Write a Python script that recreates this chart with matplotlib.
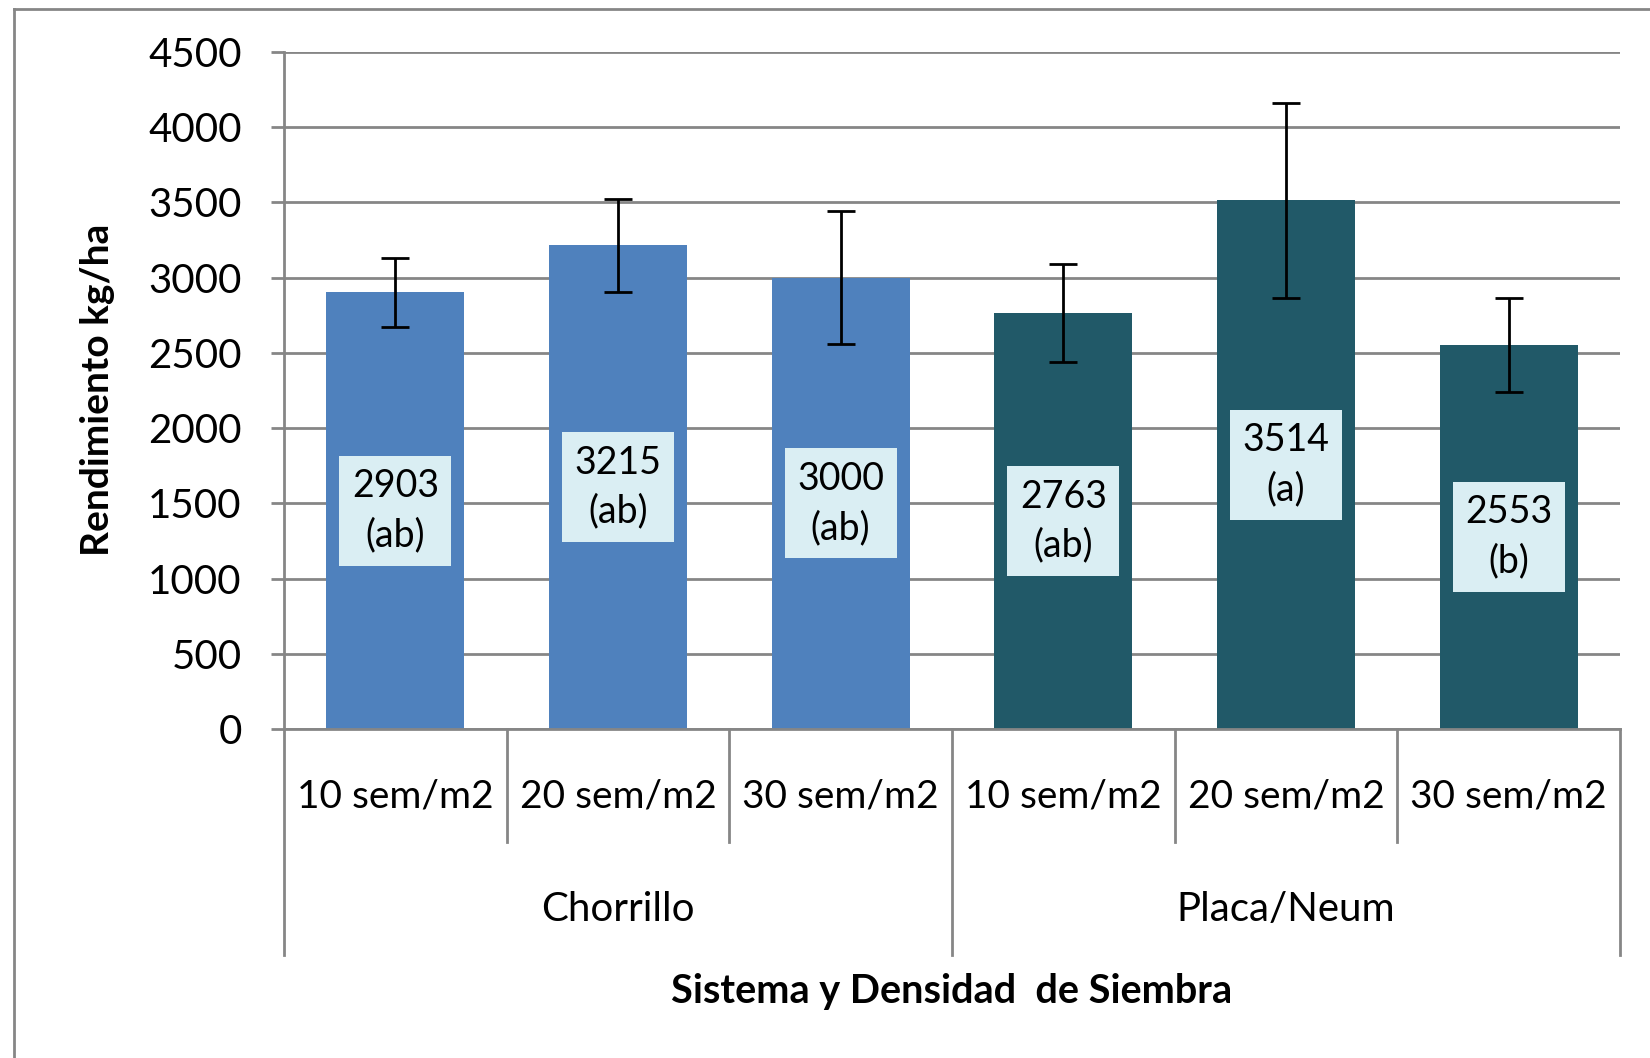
import matplotlib
matplotlib.use("Agg")
import matplotlib.pyplot as plt
from matplotlib.lines import Line2D

plt.rcParams['font.family'] = ['Lato', 'DejaVu Sans']

# data
groups = ['Chorrillo', 'Placa/Neum']
densities = ['10 sem/m2', '20 sem/m2', '30 sem/m2']
values = [2903, 3215, 3000, 2763, 3514, 2553]
errors = [230, 310, 440, 325, 650, 315]
letters = ['ab', 'ab', 'ab', 'ab', 'a', 'b']
group_colors = ['#4F81BD', '#215968']

grid_col = '#868686'

fig = plt.figure(figsize=(16.5, 10.58), dpi=100)
ax = fig.add_axes([284 / 1650, 1 - 729 / 1058, 1336 / 1650, 677 / 1058])

n = len(densities)
x = list(range(len(values)))
colors = [group_colors[i // n] for i in x]

ax.bar(x, values, width=0.62, color=colors, zorder=2)
ax.errorbar(x, values, yerr=errors, fmt='none', ecolor='black',
            elinewidth=2, capsize=10, capthick=2, zorder=3)

# labels in the middle of each bar
for xi, v, l in zip(x, values, letters):
    ax.text(xi, v / 2, '%d\n(%s)' % (v, l), ha='center', va='center',
            fontsize=27, linespacing=1.45, zorder=4,
            bbox=dict(boxstyle='square,pad=0.33', fc='#DAEEF3', ec='none'))

ax.set_xlim(-0.5, len(values) - 0.5)
ax.set_ylim(0, 4500)
ax.set_yticks(range(0, 4501, 500))
ax.yaxis.grid(True, color=grid_col, linewidth=2, zorder=0)
ax.set_axisbelow(True)

for s in ['top', 'right']:
    ax.spines[s].set_visible(False)
for s in ['left', 'bottom']:
    ax.spines[s].set_color(grid_col)
    ax.spines[s].set_linewidth(2)

ax.tick_params(axis='y', length=9.5, width=2, color=grid_col, pad=21,
               labelsize=29)
ax.set_xticks([])

# two level category axis
tr = ax.get_xaxis_transform()
for i in range(len(values) + 1):
    b = i - 0.5
    low = -0.334 if i % n == 0 else -0.167
    ax.plot([b, b], [0, low], color=grid_col, lw=2, transform=tr,
            clip_on=False)
for xi in x:
    ax.text(xi, -0.100, densities[xi % n], transform=tr, ha='center',
            va='center', fontsize=28)
for g, name in enumerate(groups):
    ax.text(g * n + (n - 1) / 2, -0.267, name, transform=tr, ha='center',
            va='center', fontsize=29)

fig.text(952 / 1650, 1 - 992 / 1058, 'Sistema y Densidad  de Siembra',
         ha='center', va='center', fontsize=28.5, fontweight='bold')
fig.text(98 / 1650, 1 - 390 / 1058, 'Rendimiento kg/ha', ha='center',
         va='center', rotation=90, fontsize=28, fontweight='bold')

# outer chart border (only left and top visible)
fig.add_artist(Line2D([14 / 1650, 14 / 1650], [0, 1 - 9 / 1058],
                      color=grid_col, lw=2))
fig.add_artist(Line2D([14 / 1650, 1], [1 - 9 / 1058, 1 - 9 / 1058],
                      color=grid_col, lw=2))

fig.savefig('out.png', dpi=100)
